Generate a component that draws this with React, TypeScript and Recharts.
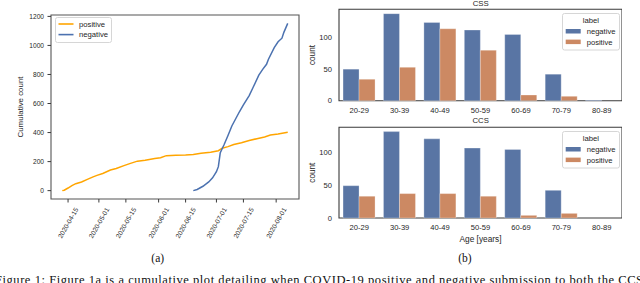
import React from 'react';
import { LineChart, Line, BarChart, Bar, XAxis, YAxis, ReferenceArea, Legend } from 'recharts';

// ---------- Data (a): cumulative counts ----------
const positiveDates = ['2020-04-12','2020-04-13','2020-04-15','2020-04-17','2020-04-19','2020-04-22','2020-04-25','2020-04-28','2020-04-30','2020-05-03','2020-05-07','2020-05-10','2020-05-14','2020-05-17','2020-05-21','2020-05-25','2020-05-30','2020-06-02','2020-06-05','2020-06-10','2020-06-15','2020-06-19','2020-06-23','2020-06-28','2020-07-02','2020-07-04','2020-07-07','2020-07-10','2020-07-14','2020-07-18','2020-07-22','2020-07-26','2020-07-29','2020-08-02','2020-08-07'];
const positiveCounts = [0,3,18,35,48,60,78,95,105,118,142,152,172,186,203,210,222,226,241,243,245,249,258,264,275,292,303,318,330,345,358,370,383,390,402];
const negativeDates = ['2020-06-19','2020-06-21','2020-06-24','2020-06-27','2020-06-29','2020-07-01','2020-07-02','2020-07-03','2020-07-05','2020-07-07','2020-07-09','2020-07-11','2020-07-13','2020-07-15','2020-07-18','2020-07-20','2020-07-23','2020-07-25','2020-07-27','2020-07-28','2020-07-31','2020-08-02','2020-08-04','2020-08-05','2020-08-07'];
const negativeCounts = [0,8,30,60,88,130,165,262,318,380,445,495,545,590,655,710,795,835,870,905,985,1025,1050,1090,1152];
const dateTickLabels = ['2020-04-15','2020-05-01','2020-05-15','2020-06-01','2020-06-15','2020-07-01','2020-07-15','2020-08-01'];
const cumulativeTicks = [0, 200, 400, 600, 800, 1000, 1200];
const lineSeriesNames = ['positive', 'negative'];

// ---------- Data (b): counts by age ----------
const ageGroups = ['20-29','30-39','40-49','50-59','60-69','70-79','80-89'];
const cssNegative = [50, 138, 124, 112, 105, 42, 1];
const cssPositive = [34, 53, 114, 80, 9, 7, 0];
const ccsNegative = [49, 131, 120, 106, 104, 42, 0];
const ccsPositive = [33, 37, 37, 33, 4, 7, 0];
const countTicks = [0, 50, 100];
const barSeriesNames = ['negative', 'positive'];

// ---------- helpers ----------
const BASE = Date.UTC(2020, 3, 15);
const toDay = (s: string) => (Date.parse(s + 'T00:00:00Z') - BASE) / 86400000;
const dayToDate = (d: number) => new Date(BASE + Math.round(d) * 86400000).toISOString().slice(0, 10);

const positiveData = positiveDates.map((d, i) => ({ day: toDay(d), count: positiveCounts[i] }));
const negativeData = negativeDates.map((d, i) => ({ day: toDay(d), count: negativeCounts[i] }));
const allDays = [...positiveData, ...negativeData].map((p) => p.day);
const allCounts = [...positiveCounts, ...negativeCounts];
const dMin = Math.min(...allDays), dMax = Math.max(...allDays);
const cMin = Math.min(...allCounts), cMax = Math.max(...allCounts);
const xPad = 0.05 * (dMax - dMin), yPad = 0.05 * (cMax - cMin);
const xDomain: [number, number] = [dMin - xPad, dMax + xPad];
const yDomain: [number, number] = [cMin - yPad, cMax + yPad];
const dayTicks = dateTickLabels.map(toDay);

const cssData = ageGroups.map((g, i) => ({ age: g, negative: cssNegative[i], positive: cssPositive[i] }));
const ccsData = ageGroups.map((g, i) => ({ age: g, negative: ccsNegative[i], positive: ccsPositive[i] }));
const cssMax = Math.max(...cssNegative, ...cssPositive) * 1.05;
const ccsMax = Math.max(...ccsNegative, ...ccsPositive) * 1.05;

const SANS = '"Liberation Sans", Arial, sans-serif';
const SERIF = '"Liberation Serif", "Times New Roman", serif';
const TXT = '#262626';
const ORANGE = '#FFA500';
const BLUE_LINE = '#4C72B0';
const BAR_BLUE = '#5975A4';
const BAR_ORANGE = '#CC8963';

const DateTick = (props: any) => {
  const { x, y, payload } = props;
  return (
    <g transform={`translate(${x},${y + 16.8})`}>
      <text transform="rotate(-60)" textAnchor="middle" dominantBaseline="central" fontSize={6.6} fill={TXT} fontFamily={SANS}>
        {dayToDate(payload.value)}
      </text>
    </g>
  );
};

const vLabel = (text: string, dx: number, size: number) => (props: any) => {
  const vb = props.viewBox || {};
  const x = (vb.x || 0) + dx;
  const y = (vb.y || 0) + (vb.height || 0) / 2;
  return (
    <text x={x} y={y} transform={`rotate(-90 ${x} ${y})`} textAnchor="middle" dominantBaseline="central" fontSize={size} fill={TXT} fontFamily={SANS}>
      {text}
    </text>
  );
};

const hLabel = (text: string, dy: number, size: number) => (props: any) => {
  const vb = props.viewBox || {};
  const x = (vb.x || 0) + (vb.width || 0) / 2;
  const y = (vb.y || 0) + dy;
  return (
    <text x={x} y={y} textAnchor="middle" dominantBaseline="central" fontSize={size} fill={TXT} fontFamily={SANS}>
      {text}
    </text>
  );
};

const orderPayload = (payload: any[], order: string[]) =>
  [...(payload || [])].sort((a, b) => order.indexOf(a.value) - order.indexOf(b.value));

const LineLegendContent = (props: any) => {
  const items = orderPayload(props.payload, lineSeriesNames);
  return (
    <svg width={58} height={27} style={{ display: 'block', overflow: 'visible' }}>
      <rect x={0.5} y={0.5} width={56} height={25} rx={2} fill="#fff" fillOpacity={0.85} stroke="#d6d6d6" strokeWidth={1} />
      {items.map((p: any, i: number) => (
        <g key={p.value}>
          <line x1={3.5} x2={18.5} y1={7 + i * 10.6} y2={7 + i * 10.6} stroke={p.color} strokeWidth={1.6} />
          <text x={24} y={7 + i * 10.6} dominantBaseline="central" fontSize={7.7} fill={TXT} fontFamily={SANS}>{p.value}</text>
        </g>
      ))}
    </svg>
  );
};

const BarLegendContent = (props: any) => {
  const items = orderPayload(props.payload, barSeriesNames);
  return (
    <svg width={58} height={38} style={{ display: 'block', overflow: 'visible' }}>
      <rect x={0.5} y={0.5} width={57} height={36.5} rx={2} fill="#fff" fillOpacity={0.85} stroke="#d6d6d6" strokeWidth={1} />
      <text x={28.8} y={7.6} textAnchor="middle" dominantBaseline="central" fontSize={7.7} fill={TXT} fontFamily={SANS}>label</text>
      {items.map((p: any, i: number) => (
        <g key={p.value}>
          <rect x={3.7} y={16 + i * 10.6} width={15} height={4.5} fill={p.color} />
          <text x={24.7} y={18.6 + i * 10.6} dominantBaseline="central" fontSize={7.6} fill={TXT} fontFamily={SANS}>{p.value}</text>
        </g>
      ))}
    </svg>
  );
};

const tickStyleLeft = { fontSize: 6.6, fill: TXT, fontFamily: SANS };
const tickStyleRight = { fontSize: 7.6, fill: TXT, fontFamily: SANS };

const AgeBarChart = ({ data, yMax, height, top, xHeight, showXLabel }: any) => (
  <BarChart
    width={322}
    height={height}
    data={data}
    margin={{ top, right: 0, bottom: 0, left: 0 }}
    barCategoryGap="10%"
    barGap={0}
  >
    <XAxis
      dataKey="age"
      type="category"
      height={xHeight}
      tickLine={false}
      axisLine={false}
      tickSize={0}
      tickMargin={6.5}
      tick={tickStyleRight}
      interval={0}
      label={showXLabel ? hLabel('Age [years]', 21.3, 8.3) : undefined}
    />
    <YAxis
      type="number"
      width={39}
      domain={[0, yMax]}
      ticks={countTicks}
      tickLine={false}
      axisLine={false}
      tickSize={0}
      tickMargin={7}
      tick={tickStyleRight}
      label={vLabel('count', 12.7, 8.2)}
    />
    <Bar dataKey="negative" name="negative" fill={BAR_BLUE} stroke="#ffffff" strokeOpacity={0.35} strokeWidth={0.8} isAnimationActive={false} />
    <Bar dataKey="positive" name="positive" fill={BAR_ORANGE} stroke="#ffffff" strokeOpacity={0.35} strokeWidth={0.8} isAnimationActive={false} />
    <ReferenceArea y1={0} y2={yMax} fill="none" stroke="#3a3a3a" strokeWidth={1.1} ifOverflow="visible" />
    <Legend
      layout="vertical"
      align="center"
      verticalAlign="middle"
      content={BarLegendContent}
      wrapperStyle={{ left: 262, top: top + 4, width: 58, height: 38 }}
    />
  </BarChart>
);

export default function App() {
  return (
    <div style={{ position: 'absolute', left: 0, top: 0, width: 640, height: 283, overflow: 'hidden', background: '#fff' }}>
      <div style={{ position: 'absolute', left: 0, top: 0 }}>
        <LineChart width={300} height={250} margin={{ top: 15, right: 1, bottom: 0, left: 0 }}>
          <XAxis
            dataKey="day"
            type="number"
            domain={xDomain}
            ticks={dayTicks}
            allowDataOverflow
            height={51}
            axisLine={false}
            tickLine={{ stroke: '#3a3a3a' }}
            tickSize={3.5}
            tickMargin={3.5}
            tick={<DateTick />}
            interval={0}
          />
          <YAxis
            type="number"
            domain={yDomain}
            ticks={cumulativeTicks}
            allowDataOverflow
            width={51}
            axisLine={false}
            tickLine={{ stroke: '#3a3a3a' }}
            tickSize={3.5}
            tickMargin={3.5}
            tick={tickStyleLeft}
            label={vLabel('Cumulative count', 20.7, 7.9)}
          />
          <Line data={positiveData} dataKey="count" name="positive" stroke={ORANGE} strokeWidth={1.5} dot={false} type="linear" isAnimationActive={false} />
          <Line data={negativeData} dataKey="count" name="negative" stroke={BLUE_LINE} strokeWidth={1.5} dot={false} type="linear" isAnimationActive={false} />
          <ReferenceArea x1={xDomain[0]} x2={xDomain[1]} y1={yDomain[0]} y2={yDomain[1]} fill="none" stroke="#555" strokeWidth={1.1} ifOverflow="visible" />
          <Legend
            layout="vertical"
            align="center"
            verticalAlign="middle"
            content={LineLegendContent}
            wrapperStyle={{ left: 54.5, top: 16.5, width: 58, height: 27 }}
          />
        </LineChart>
      </div>
      <div style={{ position: 'absolute', left: 300, top: 0 }}>
        <AgeBarChart data={cssData} yMax={cssMax} height={120} top={9.3} xHeight={19.3} showXLabel={false} />
      </div>
      <div style={{ position: 'absolute', left: 300, top: 120 }}>
        <AgeBarChart data={ccsData} yMax={ccsMax} height={130} top={7.3} xHeight={32} showXLabel={true} />
      </div>
      <svg width={640} height={283} style={{ position: 'absolute', left: 0, top: 0, pointerEvents: 'none' }}>
        <text x={480.7} y={3.4} textAnchor="middle" dominantBaseline="central" fontSize={7.8} fill={TXT} fontFamily={SANS}>CSS</text>
        <text x={480.7} y={120.6} textAnchor="middle" dominantBaseline="central" fontSize={7.8} fill={TXT} fontFamily={SANS}>CCS</text>
        <text x={157.7} y={262} textAnchor="middle" fontSize={11.5} fill="#111" fontFamily={SERIF}>(a)</text>
        <text x={465} y={262} textAnchor="middle" fontSize={11.5} fill="#111" fontFamily={SERIF}>(b)</text>
        <text x={-5} y={283.6} fontSize={12.5} fill="#111" fontFamily={SERIF} textLength={648} lengthAdjust="spacing">
          Figure 1: Figure 1a is a cumulative plot detailing when COVID-19 positive and negative submission to both the CCS
        </text>
      </svg>
    </div>
  );
}
